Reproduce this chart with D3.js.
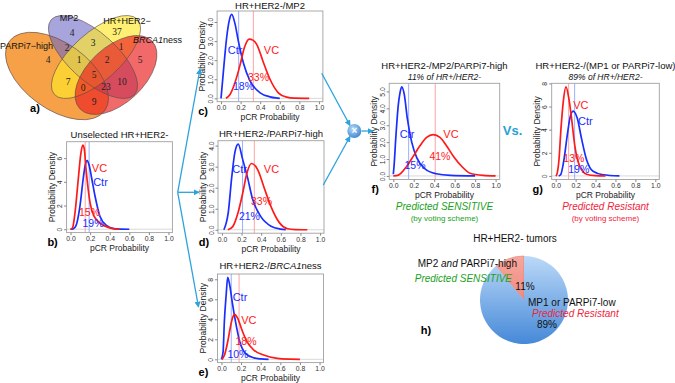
<!DOCTYPE html>
<html><head><meta charset="utf-8">
<script src="https://cdn.jsdelivr.net/npm/d3@7"></script>
<style>body{margin:0;background:#fff}svg{display:block}</style>
</head><body><svg id="c" width="675" height="383"></svg>
<script>
// ---------------- DATA ----------------
const vennSetNames = ["PARPi7\u2212high","MP2","HR+HER2\u2212","BRCA1ness"];
const vennRegions = ["B","C","A","D","AB","BC","CD","ABC","BCD","ABCD","AC","BD","ACD","ABD","AD"];
const vennCounts  = [4,37,4,5,2,3,1,1,2,5,7,10,0,23,9];

const xTicks = [0,0.2,0.4,0.6,0.8,1.0];
const yTicksB = [0,2,4,6], yTicksC = [0,1,2,3,4], yTicksD = [0,1,2,3,4];
const yTicksE = [0,2,4,6,8], yTicksF = [0,1,2,3,4,5], yTicksG = [0,2,4,6,8];

// density curves [pCR probability, density]
const bVC  = [[0,0],[0.02,0.1],[0.046,1.4],[0.08,4.3],[0.104,6.3],[0.125,7.1],[0.14,6.8],[0.158,5.1],[0.2,2.2],[0.24,1.1],[0.27,0.75],[0.32,0.4],[0.37,0.2],[0.45,0.03],[0.5,0]];
const bCtr = [[0,0],[0.03,0.05],[0.056,0.3],[0.097,2.0],[0.13,4.3],[0.15,5.4],[0.17,5.8],[0.19,5.4],[0.216,4.3],[0.25,2.8],[0.3,1.1],[0.37,0.3],[0.44,0.05],[0.5,0.01],[0.6,0]];
const cVC  = [[0.05,0],[0.092,0.2],[0.143,0.83],[0.194,1.74],[0.238,2.65],[0.289,3.1],[0.325,3.05],[0.364,2.83],[0.43,1.92],[0.5,1.0],[0.585,0.29],[0.67,0.06],[0.75,0.01],[0.9,0]];
const cCtr = [[0,0],[0.03,1.74],[0.058,3.2],[0.085,4.1],[0.109,4.4],[0.143,3.9],[0.177,3.0],[0.23,1.83],[0.296,0.92],[0.4,0.29],[0.5,0.08],[0.56,0.02],[0.6,0]];
const dVC  = [[0.06,0],[0.11,0.15],[0.166,0.84],[0.21,1.7],[0.255,2.7],[0.30,3.15],[0.364,2.86],[0.43,2.0],[0.5,1.1],[0.585,0.34],[0.67,0.05],[0.75,0.01],[0.87,0]];
const dCtr = [[0.02,0],[0.065,0.84],[0.1,2.5],[0.133,3.7],[0.166,4.07],[0.21,3.37],[0.26,2.5],[0.31,1.5],[0.4,0.6],[0.5,0.17],[0.6,0.03],[0.65,0]];
const eVC  = [[0.005,0],[0.03,0.4],[0.064,1.76],[0.092,3.26],[0.112,4.1],[0.133,4.5],[0.166,4.1],[0.21,2.9],[0.26,1.76],[0.33,0.93],[0.43,0.43],[0.57,0.1],[0.7,0.02],[0.8,0]];
const eCtr = [[0,0],[0.017,0.77],[0.03,3.8],[0.048,6.4],[0.064,8.2],[0.085,7.4],[0.109,5.8],[0.143,3.8],[0.187,1.76],[0.245,0.6],[0.33,0.15],[0.4,0.04],[0.48,0]];
const fVC  = [[0,0],[0.05,0.05],[0.13,0.56],[0.196,1.17],[0.26,1.78],[0.326,2.28],[0.39,2.44],[0.456,2.28],[0.52,1.78],[0.587,1.17],[0.67,0.56],[0.75,0.16],[0.88,0.03],[1.0,0]];
const fCtr = [[0,0.1],[0.007,0.56],[0.026,2.4],[0.049,4.2],[0.065,4.9],[0.082,5.27],[0.108,4.8],[0.137,3.4],[0.18,2.0],[0.23,1.07],[0.31,0.42],[0.42,0.13],[0.56,0.03],[0.8,0]];
const gVC  = [[0,0],[0.01,0.1],[0.033,1.4],[0.053,4.07],[0.076,6.4],[0.103,7.7],[0.132,6.7],[0.159,5.0],[0.192,2.6],[0.242,0.82],[0.31,0.15],[0.4,0.02],[0.5,0]];
const gCtr = [[0.03,0],[0.05,0.1],[0.083,1.4],[0.116,3.5],[0.143,5.0],[0.175,5.6],[0.216,5.0],[0.26,3.2],[0.31,1.4],[0.375,0.4],[0.475,0.1],[0.64,0]];

// predicted pCR rates (%) VC / Ctr
const vcPct  = {b:15,c:33,d:33,e:18,f:41,g:13};
const ctrPct = {b:19,c:18,d:21,e:10,f:15,g:19};

const pieLabels = ["MP2 and PARPi7-high","MP1 or PARPi7-low"];
const pieValues = [11,89];

// ---------------- LAYOUT ----------------
const FONT = "'Liberation Sans', Arial, Helvetica, sans-serif";
const SERIF = "'Liberation Serif', 'Times New Roman', serif";
const RED = "#ff1a1a", BLUE = "#1a2eff", ARROW = "#2ba3dc";
const svg = d3.select("#c");
const defs = svg.append("defs");

const panels = [
 {id:"b", vc:bVC, ctr:bCtr, yt:yTicksB, box:[66.6,172.4,141.7,232.6], title:[["Unselected HR+HER2-",0]], ty:138,
  lab:{VC:[0.296,4.79],Ctr:[0.306,3.66],vp:[0.194,1.15],cp:[0.23,0.2]}},
 {id:"c", vc:cVC, ctr:cCtr, yt:yTicksC, box:[217.1,322.9,11,101.7], title:[["HR+HER2-/MP2",0]], ty:8.5,
  lab:{VC:[0.515,2.32],Ctr:[0.143,2.32],vp:[0.383,0.91],cp:[0.23,0.42]}},
 {id:"d", vc:dVC, ctr:dCtr, yt:yTicksD, box:[218,324,140.7,233.2], title:[["HR+HER2-/PARPi7-high",0]], ty:137,
  lab:{VC:[0.505,2.68],Ctr:[0.18,2.68],vp:[0.403,1.16],cp:[0.28,0.45]}},
 {id:"e", vc:eVC, ctr:eCtr, yt:yTicksE, box:[217.5,323.5,274,362.6], title:[["HR+HER2-/",0],["BRCA1",1],["ness",0]], ty:269,
  lab:{VC:[0.28,3.53],Ctr:[0.189,5.83],vp:[0.25,1.45],cp:[0.168,0.15]}},
 {id:"f", vc:fVC, ctr:fCtr, yt:yTicksF, box:[389.2,499.7,83.3,179.5], title:[["HR+HER2-/MP2/PARPi7-high",0]], ty:69,
  sub:"11% of HR+/HER2-", lab:{VC:[0.564,2.24],Ctr:[0.134,2.24],vp:[0.456,0.97],cp:[0.212,0.42]}},
 {id:"g", vc:gVC, ctr:gCtr, yt:yTicksG, box:[551.7,659.3,83.3,179.5], title:[["HR+HER2-/(MP1 or PARPi7-low)",0]], ty:69,
  sub:"89% of HR+/HER2-", lab:{VC:[0.252,5.75],Ctr:[0.297,4.42],vp:[0.182,1.24],cp:[0.232,0.27]}}
];

function text(g, x, y, str, o={}) {
  return g.append("text").attr("x",x).attr("y",y).text(str)
    .attr("font-family",o.ff||FONT).attr("font-size",o.fs||10)
    .attr("fill",o.fill||"#111").attr("text-anchor",o.anchor||"start")
    .attr("font-style",o.it?"italic":"normal").attr("font-weight",o.bold?"bold":"normal");
}

panels.forEach(p => {
  const [x0,x1,y0,y1] = p.box;
  const g = svg.append("g");
  const x = d3.scaleLinear().domain([-0.04,1.04]).range([x0,x1]);
  const ymax = d3.max(p.vc.concat(p.ctr), d=>d[1]);
  const y = d3.scaleLinear().domain([-0.04*ymax,1.04*ymax]).range([y1,y0]);
  const clipId = "clip"+p.id;
  defs.append("clipPath").attr("id",clipId).append("rect").attr("x",x0).attr("y",y0).attr("width",x1-x0).attr("height",y1-y0);
  const inner = g.append("g").attr("clip-path",`url(#${clipId})`);
  inner.append("line").attr("x1",x0).attr("x2",x1).attr("y1",y(0)).attr("y2",y(0)).attr("stroke","#c8c8c8").attr("stroke-width",0.7);
  inner.append("line").attr("x1",x(ctrPct[p.id]/100)).attr("x2",x(ctrPct[p.id]/100)).attr("y1",y0).attr("y2",y1).attr("stroke","#8ea6ff").attr("stroke-width",0.9);
  inner.append("line").attr("x1",x(vcPct[p.id]/100)).attr("x2",x(vcPct[p.id]/100)).attr("y1",y0).attr("y2",y1).attr("stroke","#ff9a9a").attr("stroke-width",0.9);
  const line = d3.line().x(d=>x(d[0])).y(d=>y(d[1])).curve(d3.curveMonotoneX);
  inner.append("path").datum(p.ctr).attr("d",line).attr("fill","none").attr("stroke",BLUE).attr("stroke-width",1.7);
  inner.append("path").datum(p.vc).attr("d",line).attr("fill","none").attr("stroke",RED).attr("stroke-width",1.7);
  g.append("rect").attr("x",x0).attr("y",y0).attr("width",x1-x0).attr("height",y1-y0).attr("fill","none").attr("stroke","#a0a0a0").attr("stroke-width",0.9);
  const xa = g.append("g").attr("transform",`translate(0,${y1})`)
    .call(d3.axisBottom(x).tickValues(xTicks).tickFormat(d3.format(".1f")).tickSize(2.5).tickPadding(1));
  xa.select(".domain").remove();
  xa.selectAll("line").attr("stroke","#888");
  xa.selectAll("text").attr("font-family",FONT).attr("font-size",6.8).attr("fill","#333");
  const ya = g.append("g").attr("transform",`translate(${x0},0)`)
    .call(d3.axisLeft(y).tickValues(p.yt).tickSize(2.5));
  ya.select(".domain").remove();
  ya.selectAll("line").attr("stroke","#888");
  ya.selectAll("text").attr("font-family",FONT).attr("font-size",6.8).attr("fill","#333")
    .attr("x",null).attr("dy",null).attr("text-anchor","middle").attr("transform","translate(-4.5,0) rotate(-90)");
  text(g,(x0+x1)/2,y1+18.5,"pCR Probability",{anchor:"middle",fs:8.5,fill:"#222"});
  text(g,0,0,"Probability Density",{anchor:"middle",fs:8.5,fill:"#222"})
    .attr("transform",`translate(${x0-12},${(y0+y1)/2}) rotate(-90)`);
  text(g,x0-14,y1+13,p.id+")",{anchor:"middle",fs:11,bold:1,fill:"#000"});
  const t = text(g,(x0+x1)/2,p.ty,"",{anchor:"middle",fs:9.5,fill:"#111"});
  p.title.forEach(s=>t.append("tspan").text(s[0]).attr("font-style",s[1]?"italic":"normal"));
  if (p.sub) text(g,(x0+x1)/2,p.ty+10.5,p.sub,{anchor:"middle",fs:8.5,it:1,fill:"#111"});
  const L = p.lab;
  text(g,x(L.VC[0]),y(L.VC[1]),"VC",{anchor:"middle",fs:11,fill:RED});
  text(g,x(L.Ctr[0]),y(L.Ctr[1]),"Ctr",{anchor:"middle",fs:11,fill:BLUE});
  text(g,x(L.vp[0]),y(L.vp[1]),vcPct[p.id]+"%",{anchor:"middle",fs:10.5,fill:RED});
  text(g,x(L.cp[0]),y(L.cp[1]),ctrPct[p.id]+"%",{anchor:"middle",fs:10.5,fill:BLUE});
});

text(svg,444.5,210,"Predicted SENSITIVE",{anchor:"middle",fs:10,it:1,fill:"#1aa11a"});
text(svg,444.5,221,"(by voting scheme)",{anchor:"middle",fs:8,fill:"#1aa11a"});
text(svg,605.5,210,"Predicted Resistant",{anchor:"middle",fs:10,it:1,fill:"#f0243a"});
text(svg,605.5,221,"(by voting scheme)",{anchor:"middle",fs:8,fill:"#f0243a"});
text(svg,512.5,135,"Vs.",{anchor:"middle",fs:13,bold:1,fill:"#2a9fd4"});

// ---------------- ARROWS ----------------
defs.append("marker").attr("id","ah").attr("viewBox","0 -4 8 8").attr("refX",7).attr("refY",0)
  .attr("markerWidth",6).attr("markerHeight",6).attr("markerUnits","userSpaceOnUse").attr("orient","auto")
  .append("path").attr("d","M0,-4L8,0L0,4Z").attr("fill",ARROW);
const arrows = [[[177.7,192.3],[200,69]],[[177.7,192.3],[199,192.3]],[[177.7,192.3],[198.5,307]],
                [[321.7,73.3],[350,125.5]],[[323.3,185],[350,136.5]],[[361.5,131],[373,131]]];
arrows.forEach(a=>svg.append("line").attr("x1",a[0][0]).attr("y1",a[0][1]).attr("x2",a[1][0]).attr("y2",a[1][1])
  .attr("stroke",ARROW).attr("stroke-width",1.3).attr("marker-end","url(#ah)"));
const rg = defs.append("radialGradient").attr("id","sph").attr("cx","40%").attr("cy","35%").attr("r","70%");
rg.append("stop").attr("offset","0%").attr("stop-color","#b9dbf7");
rg.append("stop").attr("offset","100%").attr("stop-color","#3c84d2");
svg.append("circle").attr("cx",354.3).attr("cy",131).attr("r",7).attr("fill","url(#sph)");
text(svg,354.3,134.3,"\u00d7",{anchor:"middle",fs:10,bold:1,fill:"#fff"});

// ---------------- PIE (h) ----------------
const pg1 = defs.append("linearGradient").attr("id","pieBlue").attr("x1",0).attr("y1",0).attr("x2",0).attr("y2",1);
pg1.append("stop").attr("offset","0%").attr("stop-color","#bcd9f8");
pg1.append("stop").attr("offset","100%").attr("stop-color","#4589d8");
const pg2 = defs.append("linearGradient").attr("id","pieRed").attr("x1",0).attr("y1",0).attr("x2",0).attr("y2",1);
pg2.append("stop").attr("offset","0%").attr("stop-color","#f7a79d");
pg2.append("stop").attr("offset","100%").attr("stop-color","#ee8a80");
const total = d3.sum(pieValues);
const a0 = -pieValues[0]/total*2*Math.PI;
const pie = d3.pie().sort(null).startAngle(a0).endAngle(a0+2*Math.PI);
const arc = d3.arc().innerRadius(0).outerRadius(44);
const pieG = svg.append("g").attr("transform","translate(524,300)");
pieG.selectAll("path").data(pie(pieValues)).join("path").attr("d",arc)
  .attr("fill",(d,i)=>i===0?"url(#pieRed)":"url(#pieBlue)")
  .attr("stroke",(d,i)=>i===0?"#e8766c":"none").attr("stroke-width",0.6);
text(svg,515,242,"HR+HER2- tumors",{anchor:"middle",fs:10});
const t1 = text(svg,517,267,"",{anchor:"end",fs:10});
t1.append("tspan").text("MP2 "); t1.append("tspan").text("and").attr("font-style","italic"); t1.append("tspan").text(" PARPi7-high");
text(svg,512,282,"Predicted SENSITIVE",{anchor:"end",fs:10,it:1,fill:"#1aa11a"});
text(svg,525,290,pieValues[0]+"%",{anchor:"middle",fs:10});
text(svg,528,306,pieLabels[1],{fs:10});
text(svg,532,317,"Predicted Resistant",{fs:10,it:1,fill:"#f0243a"});
text(svg,547,328,pieValues[1]+"%",{anchor:"middle",fs:10});
text(svg,426,334,"h)",{anchor:"middle",fs:11,bold:1,fill:"#000"});

// ---------------- VENN (a) ----------------
const ellipses = [
  {set:0, cx:57, cy:76, rx:59, ry:33, rot:36, fill:"#f27d00", op:0.72},
  {set:1, cx:93, cy:57, rx:56, ry:24, rot:42, fill:"#6e67c5", op:0.6},
  {set:2, cx:96, cy:57, rx:56, ry:24, rot:-42, fill:"#ffe82a", op:0.66},
  {set:3, cx:116, cy:75, rx:49.5, ry:28, rot:-43, fill:"#ec2222", op:0.68}
];
const vg = svg.append("g");
ellipses.forEach(e=>vg.append("ellipse").attr("cx",0).attr("cy",0).attr("rx",e.rx).attr("ry",e.ry)
  .attr("transform",`translate(${e.cx},${e.cy}) rotate(${e.rot})`)
  .attr("fill",e.fill).attr("fill-opacity",e.op));
ellipses.forEach(e=>vg.append("ellipse").attr("cx",0).attr("cy",0).attr("rx",e.rx).attr("ry",e.ry)
  .attr("transform",`translate(${e.cx},${e.cy}) rotate(${e.rot})`)
  .attr("fill","none").attr("stroke","#5a4a4a").attr("stroke-width",0.6));
const regionPos = {B:[72,33],C:[117,32],A:[48,60],D:[140,60],AB:[67,48],BC:[93,43],CD:[121,47],ABC:[79,60],
  BCD:[107,60],ABCD:[94,75],AC:[68,82],BD:[122,82],ACD:[83,88],ABD:[106,87],AD:[94,102]};
vennRegions.forEach((r,i)=>text(vg,regionPos[r][0],regionPos[r][1]+3,vennCounts[i],{anchor:"middle",fs:9.5,ff:SERIF,fill:"#222"}));
text(vg,0,48.5,vennSetNames[0],{fs:9});
text(vg,69,20.5,vennSetNames[1],{anchor:"middle",fs:9});
text(vg,127,23.5,vennSetNames[2],{anchor:"middle",fs:9});
const bt = text(vg,133,42.5,"",{fs:9});
bt.append("tspan").text("BRCA1").attr("font-style","italic"); bt.append("tspan").text("ness");
text(vg,35,112,"a)",{anchor:"middle",fs:11,bold:1,fill:"#000"});
</script></body></html>
